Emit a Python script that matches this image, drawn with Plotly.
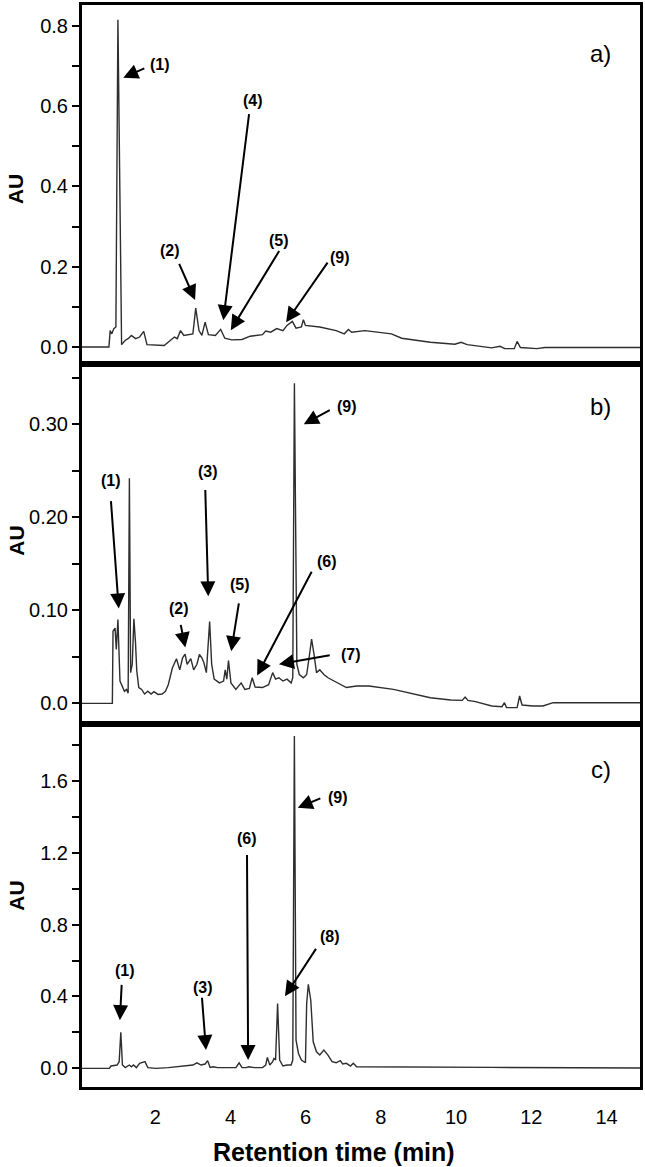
import plotly.graph_objects as go
from plotly.subplots import make_subplots

# ---- chromatogram a) ----
a_time = [0.05, 0.769, 0.802, 0.845, 0.900, 0.954, 1.008, 1.106, 1.204, 1.280, 1.367, 1.476,
          1.585, 1.694, 1.781, 2.238, 2.511, 2.587, 2.674, 2.761, 3.001, 3.077, 3.164, 3.240,
          3.327, 3.414, 3.599, 3.741, 3.850, 4.035, 4.307, 4.525, 4.851, 4.938, 5.069, 5.232,
          5.396, 5.505, 5.646, 5.744, 5.886, 5.940, 5.994, 6.375, 6.811, 7.028, 7.137, 7.224,
          7.573, 7.900, 8.281, 8.553, 9.315, 9.968, 10.131, 10.295, 10.948, 11.166, 11.296,
          11.547, 11.623, 11.710, 12.145, 12.363, 14.89]
a_au = [0.0, 0.0, 0.041, 0.033, 0.046, 0.050, 0.815, 0.006, 0.017, 0.021, 0.029, 0.021,
        0.025, 0.039, 0.006, 0.004, 0.025, 0.021, 0.041, 0.029, 0.033, 0.097, 0.041, 0.029,
        0.062, 0.031, 0.029, 0.044, 0.022, 0.018, 0.019, 0.027, 0.031, 0.040, 0.037, 0.046,
        0.041, 0.054, 0.064, 0.047, 0.050, 0.068, 0.054, 0.050, 0.041, 0.033, 0.044, 0.037,
        0.041, 0.037, 0.033, 0.022, 0.012, 0.007, 0.012, 0.006, -0.002, 0.002, -0.004,
        -0.004, 0.014, -0.001, -0.004, -0.001, -0.001]

# ---- chromatogram b) ----
b_time = [0.05, 0.860, 0.878, 0.932, 0.965, 1.008, 1.063, 1.128, 1.182, 1.237, 1.280, 1.313,
          1.346, 1.389, 1.433, 1.476, 1.509, 1.563, 1.640, 1.716, 1.803, 1.890, 1.966, 2.075,
          2.184, 2.271, 2.347, 2.456, 2.565, 2.652, 2.728, 2.794, 2.848, 2.946, 3.022, 3.109,
          3.175, 3.240, 3.294, 3.360, 3.403, 3.447, 3.501, 3.567, 3.708, 3.817, 3.861, 3.904,
          3.948, 4.013, 4.144, 4.285, 4.383, 4.503, 4.579, 4.655, 4.851, 5.015, 5.123, 5.200,
          5.287, 5.396, 5.505, 5.614, 5.657, 5.701, 5.766, 5.831, 5.940, 6.027, 6.103, 6.158,
          6.223, 6.288, 6.375, 6.484, 6.593, 6.756, 6.920, 7.083, 7.355, 7.682, 8.335, 8.771,
          9.315, 9.860, 10.164, 10.240, 10.316, 10.513, 10.948, 11.220, 11.286, 11.340, 11.623,
          11.689, 11.754, 12.037, 12.309, 12.581, 14.89]
b_au = [0.0, 0.0, 0.0775, 0.081, 0.058, 0.090, 0.024, 0.017, 0.013, 0.015, 0.011, 0.242,
        0.033, 0.042, 0.091, 0.065, 0.035, 0.017, 0.015, 0.010, 0.013, 0.010, 0.0125, 0.0096,
        0.010, 0.013, 0.020, 0.038, 0.048, 0.036, 0.049, 0.053, 0.042, 0.048, 0.036, 0.042,
        0.0525, 0.049, 0.0436, 0.033, 0.056, 0.088, 0.042, 0.026, 0.022, 0.024, 0.036, 0.026,
        0.046, 0.022, 0.015, 0.022, 0.015, 0.016, 0.0275, 0.0175, 0.017, 0.020, 0.033, 0.026,
        0.0275, 0.024, 0.026, 0.022, 0.0275, 0.344, 0.042, 0.031, 0.0275, 0.031, 0.0525, 0.069,
        0.0525, 0.033, 0.036, 0.031, 0.0275, 0.024, 0.021, 0.017, 0.0186, 0.0186, 0.015, 0.0107,
        0.006, 0.0036, 0.0032, 0.0068, 0.0032, 0.0018, -0.0029, -0.0036, 0.0007, -0.0046,
        -0.0046, 0.0079, -0.0018, -0.0029, -0.0029, 0.0007, 0.0007]

# ---- chromatogram c) ----
c_time = [0.05, 0.780, 0.823, 0.987, 1.041, 1.085, 1.128, 1.204, 1.313, 1.367, 1.422, 1.498,
          1.585, 1.672, 1.727, 1.803, 2.021, 2.347, 2.674, 2.892, 3.001, 3.109, 3.218, 3.327,
          3.393, 3.458, 3.545, 3.654, 3.981, 4.144, 4.231, 4.307, 4.416, 4.492, 4.634, 4.851,
          4.938, 4.982, 5.047, 5.123, 5.156, 5.200, 5.254, 5.309, 5.396, 5.505, 5.614, 5.657,
          5.700, 5.744, 5.809, 5.886, 5.994, 6.027, 6.071, 6.136, 6.201, 6.288, 6.375, 6.484,
          6.593, 6.702, 6.811, 6.920, 6.985, 7.083, 7.192, 7.268, 7.355, 7.682, 8.771, 10.948,
          14.89]
c_au = [0.0, 0.0, 0.013, 0.0185, 0.037, 0.200, 0.0185, 0.004, 0.0185, 0.009, 0.0185, 0.004,
        0.028, 0.033, 0.037, 0.004, 0.0, 0.004, 0.013, 0.0185, 0.0185, 0.031, 0.0185, 0.024,
        0.043, 0.0055, 0.009, 0.004, 0.0055, 0.004, 0.031, 0.004, 0.004, 0.009, 0.004, 0.004,
        0.0185, 0.061, 0.0185, 0.037, 0.055, 0.046, 0.360, 0.046, 0.013, 0.0185, 0.0185, 0.046,
        1.85, 0.157, 0.083, 0.046, 0.031, 0.360, 0.468, 0.379, 0.148, 0.092, 0.074, 0.102,
        0.074, 0.037, 0.031, 0.043, 0.024, 0.028, 0.013, 0.028, 0.009, 0.009, 0.007, 0.0055,
        0.002]

# peak labels: (panel, text, label_x, label_y, tail_x, tail_y, head_x, head_y)
peak_labels = [
    (1, "(1)", 2.14, 0.703, 1.75, 0.696, 1.15, 0.671),
    (1, "(2)", 2.38, 0.241, 2.62, 0.211, 3.06, 0.117),
    (1, "(4)", 4.60, 0.614, 4.50, 0.584, 3.81, 0.067),
    (1, "(5)", 5.29, 0.266, 5.32, 0.243, 4.01, 0.042),
    (1, "(9)", 6.90, 0.224, 6.61, 0.214, 5.48, 0.062),
    (2, "(1)", 0.82, 0.240, 0.82, 0.219, 1.03, 0.102),
    (2, "(2)", 2.62, 0.102, 2.67, 0.086, 2.80, 0.060),
    (2, "(3)", 3.39, 0.249, 3.33, 0.231, 3.41, 0.115),
    (2, "(5)", 4.26, 0.128, 4.23, 0.109, 4.02, 0.056),
    (2, "(6)", 6.56, 0.153, 6.18, 0.143, 4.71, 0.030),
    (2, "(7)", 7.20, 0.053, 6.68, 0.052, 5.29, 0.042),
    (2, "(9)", 7.09, 0.319, 6.68, 0.316, 5.95, 0.300),
    (3, "(1)", 1.19, 0.546, 1.11, 0.473, 1.06, 0.268),
    (3, "(3)", 3.28, 0.451, 3.24, 0.401, 3.35, 0.102),
    (3, "(6)", 4.44, 1.279, 4.44, 1.195, 4.47, 0.046),
    (3, "(8)", 6.64, 0.734, 6.30, 0.673, 5.45, 0.401),
    (3, "(9)", 6.87, 1.506, 6.43, 1.506, 5.79, 1.450),
]

panel_tags = ["a)", "b)", "c)"]
tag_y = [0.730, 0.319, 1.663]

BLACK = "#000000"
TRACE = "#2e2e2e"
FONT = "Liberation Sans, Arial, sans-serif"

fig = make_subplots(rows=3, cols=1, shared_xaxes=True, vertical_spacing=0)

for row, (t, au) in enumerate([(a_time, a_au), (b_time, b_au), (c_time, c_au)], start=1):
    fig.add_trace(
        go.Scatter(x=t, y=au, mode="lines", line=dict(color=TRACE, width=1.4),
                   showlegend=False, hoverinfo="skip"),
        row=row, col=1,
    )

for panel, txt, lx, ly, tx, ty, hx, hy in peak_labels:
    xr = "x" if panel == 1 else f"x{panel}"
    yr = "y" if panel == 1 else f"y{panel}"
    fig.add_annotation(x=hx, y=hy, ax=tx, ay=ty, xref=xr, yref=yr, axref=xr, ayref=yr,
                       text="", showarrow=True, arrowhead=2, arrowsize=1.5,
                       arrowwidth=2, arrowcolor=BLACK)
    fig.add_annotation(x=lx, y=ly, xref=xr, yref=yr, text=f"<b>{txt}</b>",
                       showarrow=False, font=dict(family=FONT, size=16, color=BLACK))

for i, (tag, ty) in enumerate(zip(panel_tags, tag_y), start=1):
    xr = "x" if i == 1 else f"x{i}"
    yr = "y" if i == 1 else f"y{i}"
    fig.add_annotation(x=13.84, y=ty, xref=xr, yref=yr, text=tag, showarrow=False,
                       font=dict(family=FONT, size=24, color=BLACK))

# y-axis titles (left of the tick labels) and the shared x-axis title
for yp in [0.83, 0.505, 0.177]:
    fig.add_annotation(x=-0.118, y=yp, xref="paper", yref="paper", text="<b>AU</b>",
                       textangle=-90, showarrow=False, xanchor="center", yanchor="middle",
                       font=dict(family=FONT, size=21, color=BLACK))
fig.add_annotation(x=0.452, y=-0.06, xref="paper", yref="paper", yanchor="middle",
                   text="<b>Retention time (min)</b>", showarrow=False,
                   font=dict(family=FONT, size=25, color=BLACK))

axis_common = dict(showline=True, linecolor=BLACK, linewidth=3, mirror=True,
                   showgrid=False, zeroline=False)

fig.update_xaxes(range=[0.053, 14.89], ticks="", **axis_common)
fig.update_xaxes(showticklabels=False, row=1, col=1)
fig.update_xaxes(showticklabels=False, row=2, col=1)
fig.update_xaxes(tickvals=[2, 4, 6, 8, 10, 12, 14], showticklabels=True, ticklabelstandoff=10,
                 tickfont=dict(family=FONT, size=20, color=BLACK), row=3, col=1)

ytick = dict(ticks="outside", ticklen=7, tickwidth=1.5, tickcolor=BLACK,
             tickfont=dict(family=FONT, size=20, color=BLACK))

fig.update_yaxes(domain=[0.6682, 1.0], range=[-0.0422, 0.852],
                 tickvals=[0.0, 0.2, 0.4, 0.6, 0.8], ticktext=["0.0", "0.2", "0.4", "0.6", "0.8"],
                 minor=dict(tickvals=[0.1, 0.3, 0.5, 0.7], ticks="outside", ticklen=7,
                            tickwidth=1.5, tickcolor=BLACK),
                 **ytick, **axis_common, row=1, col=1)
fig.update_yaxes(domain=[0.3355, 0.6682], range=[-0.0222, 0.3648],
                 tickvals=[0.0, 0.1, 0.2, 0.3], ticktext=["0.0", "0.10", "0.20", "0.30"],
                 minor=dict(tickvals=[0.05, 0.15, 0.25, 0.35], ticks="outside", ticklen=7,
                            tickwidth=1.5, tickcolor=BLACK),
                 **ytick, **axis_common, row=2, col=1)
fig.update_yaxes(domain=[0.0, 0.3355], range=[-0.1038, 1.9162],
                 tickvals=[0.0, 0.4, 0.8, 1.2, 1.6], ticktext=["0.0", "0.4", "0.8", "1.2", "1.6"],
                 minor=dict(tickvals=[0.2, 0.6, 1.0, 1.4, 1.8], ticks="outside", ticklen=7,
                            tickwidth=1.5, tickcolor=BLACK),
                 **ytick, **axis_common, row=3, col=1)

fig.update_layout(
    width=645, height=1167,
    margin=dict(l=82, r=2, t=2, b=80),
    paper_bgcolor="white", plot_bgcolor="white",
    font=dict(family=FONT, color=BLACK),
)

# the page's default body margin would shift the figure by 8px
fig.write_html("out.html", config={"displayModeBar": False},
               post_script="document.body.style.margin='0';")
